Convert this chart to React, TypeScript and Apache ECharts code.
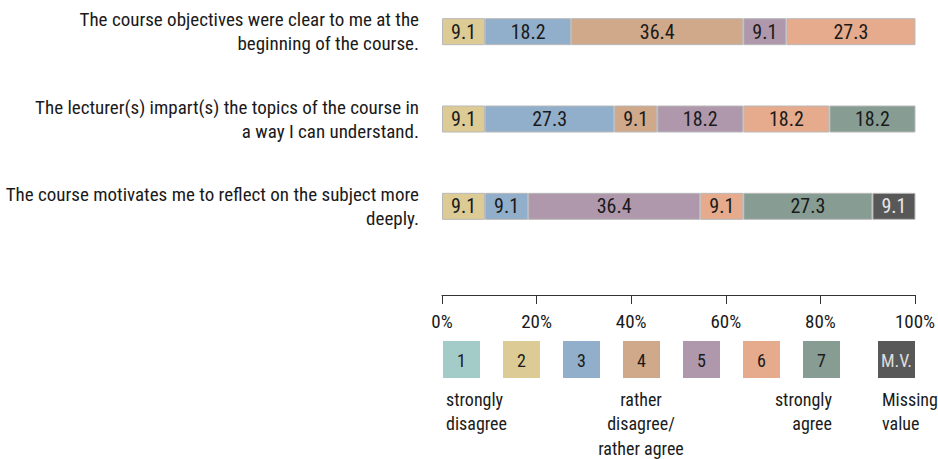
import React, { useEffect, useRef } from "react";
import * as echarts from "echarts";

const categories = [
  "The course objectives were clear to me at the\nbeginning of the course.",
  "The lecturer(s) impart(s) the topics of the course in\na way I can understand.",
  "The course motivates me to reflect on the subject more\ndeeply.",
];
const seriesNames = ["1", "2", "3", "4", "5", "6", "7", "M.V."];
const colors = ["#a3cbc8", "#dccb95", "#91afcb", "#cfa98a", "#b098ac", "#e5ab8c", "#879d94", "#585858"];
// values per series, one per category (null = none)
const s1 = [null, null, null];
const s2 = [9.1, 9.1, 9.1];
const s3 = [18.2, 27.3, 9.1];
const s4 = [36.4, 9.1, null];
const s5 = [9.1, 18.2, 36.4];
const s6 = [27.3, 18.2, 9.1];
const s7 = [null, 18.2, 27.3];
const sMV = [null, null, 9.1];
const allValues = [s1, s2, s3, s4, s5, s6, s7, sMV];
const xTicks = { min: 0, max: 100, interval: 20 };
const legendNotes = [
  { text: "strongly\ndisagree", x: 446, align: "left" },
  { text: "rather\ndisagree/\nrather agree", x: 641, align: "center" },
  { text: "strongly\nagree", x: 832, align: "right" },
  { text: "Missing\nvalue", x: 882, align: "left" },
];

const FONT = "'Roboto Condensed', 'Liberation Sans', sans-serif";

export default function App() {
  const ref = useRef<HTMLDivElement>(null);
  useEffect(() => {
    document.body.style.margin = "0";
    if (!ref.current) return;
    const chart = echarts.init(ref.current, null, { renderer: "svg" });
    const series = seriesNames.map((name, i) => ({
      name,
      type: "bar",
      stack: "total",
      barWidth: 27,
      data: allValues[i].map((v) => (v === null ? "-" : v)),
      itemStyle: { color: colors[i], borderColor: "#b8b8b8", borderWidth: 1 },
      label: {
        show: true,
        position: "inside",
        fontFamily: FONT,
        fontSize: 20,
        padding: [2, 0, 0, 0],
        color: i === 7 ? "#e6e6e6" : "#1a1a1a",
        formatter: (p: any) => Number(p.value).toFixed(1),
      },
    }));
    const graphics: any[] = [];
    seriesNames.forEach((n, i) => {
      const x = i < 7 ? 443 + 60 * i : 878;
      graphics.push({
        type: "rect",
        shape: { x, y: 341, width: 37, height: 37 },
        style: { fill: colors[i] },
      });
      graphics.push({
        type: "text",
        x: x + 18.5,
        y: 360,
        style: {
          text: n,
          fontFamily: FONT,
          fontSize: 18,
          fill: i === 7 ? "#dddddd" : "#1a1a1a",
          align: "center",
          verticalAlign: "middle",
        },
      });
    });
    legendNotes.forEach((ln) => {
      graphics.push({
        type: "text",
        x: ln.x,
        y: 387,
        style: {
          text: ln.text,
          fontFamily: FONT,
          fontSize: 18,
          lineHeight: 24.5,
          fill: "#1a1a1a",
          align: ln.align,
          verticalAlign: "top",
        },
      });
    });
    chart.setOption({
      animation: false,
      grid: {
        left: 442,
        right: 23,
        top: -12,
        height: 262,
        containLabel: false,
        outerBoundsMode: "none",
      },
      xAxis: {
        type: "value",
        min: xTicks.min,
        max: xTicks.max,
        interval: xTicks.interval,
        position: "bottom",
        offset: 45,
        splitLine: { show: false },
        axisLine: { show: true, lineStyle: { color: "#333", width: 1 } },
        axisTick: { show: true, length: 9, lineStyle: { color: "#333" } },
        axisLabel: {
          formatter: "{value}%",
          fontFamily: FONT,
          fontSize: 19,
          color: "#1a1a1a",
          margin: 17,
        },
      },
      yAxis: {
        type: "category",
        inverse: true,
        data: categories,
        axisLine: { show: false },
        axisTick: { show: false },
        axisLabel: {
          fontFamily: FONT,
          fontSize: 19,
          lineHeight: 24,
          color: "#1a1a1a",
          margin: 23,
          align: "right",
          padding: [3, 0, 0, 0],
        },
      },
      series,
      graphic: graphics,
    });
    return () => chart.dispose();
  }, []);
  return <div ref={ref} style={{ width: 938, height: 459 }} />;
}
